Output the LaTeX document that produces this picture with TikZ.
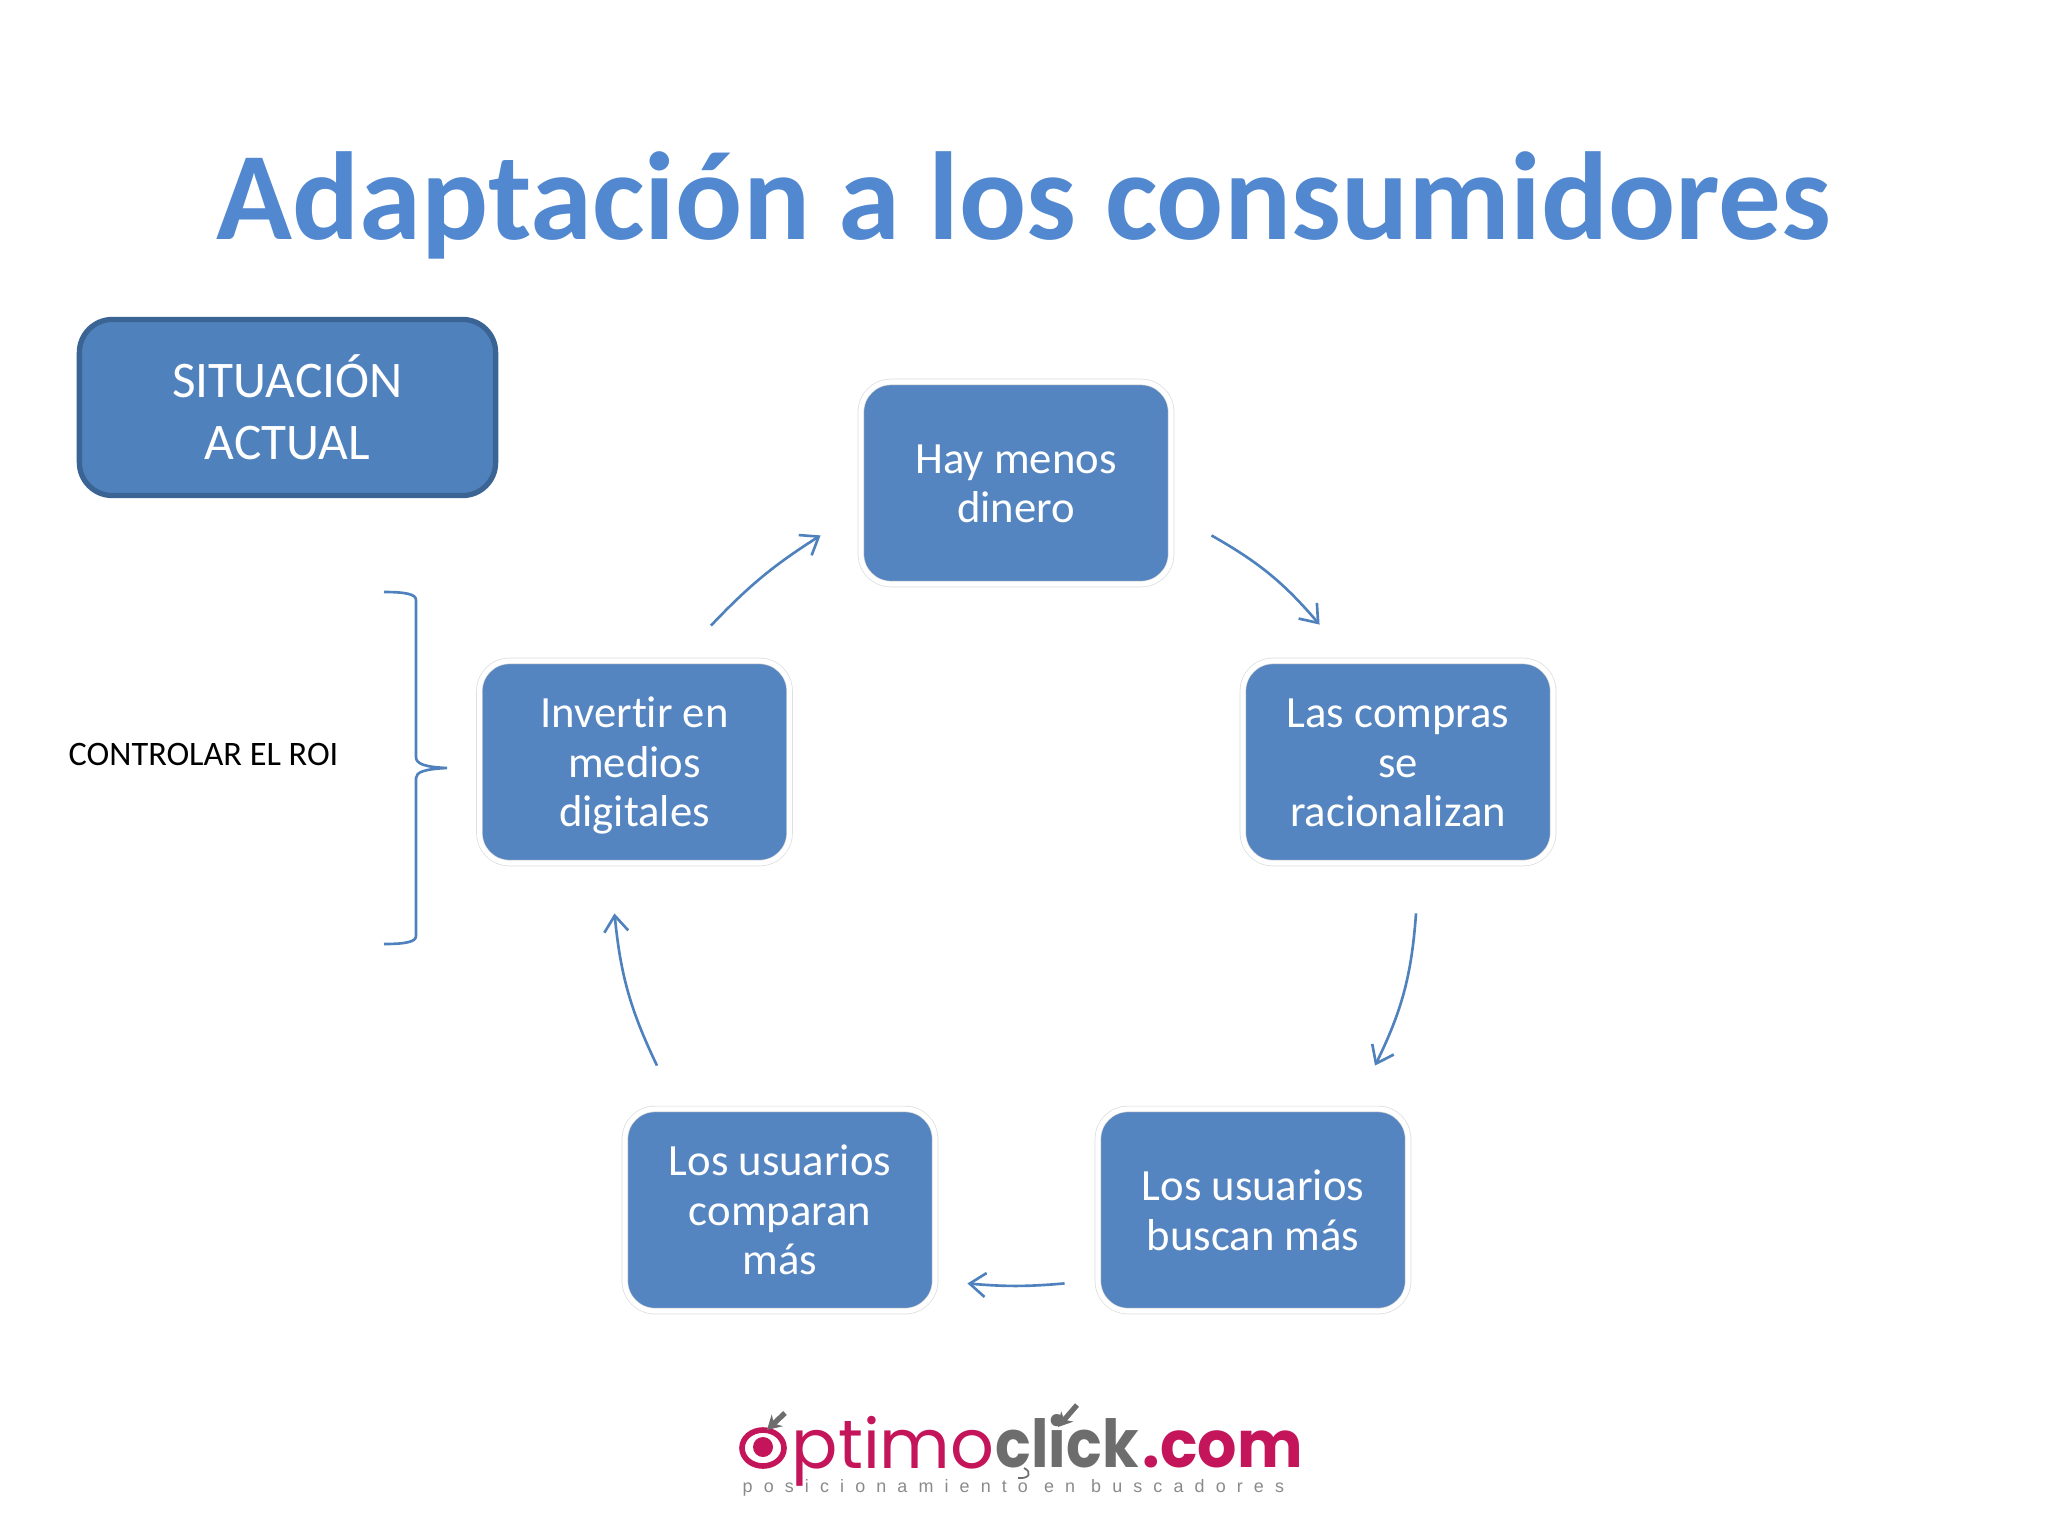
\documentclass[tikz,border=0pt]{standalone}
\usepackage{fontspec}
\setmainfont{Carlito}[Ligatures=NoCommon]
\newfontfamily\logofont{Poppins}
\newfontfamily\tagfont[LetterSpace=62]{Liberation Sans}
\usetikzlibrary{arrows.meta}
\definecolor{boxblue}{HTML}{5585C0}
\definecolor{darkblue}{HTML}{3A6494}
\definecolor{midblue}{HTML}{4F81BD}
\definecolor{titleblue}{HTML}{5288D0}
\definecolor{logopink}{HTML}{C4145A}
\definecolor{logogray}{HTML}{6D6D6D}
\newcommand{\lintop}{\rule{0pt}{12.8pt}}
\tikzset{
    cyclebox/.style={rectangle, rounded corners=0.3cm, fill=boxblue, draw=black!14, line width=0.2pt,
        double=white, double distance=0.05cm, minimum width=3.1cm, minimum height=2.02cm,
        text=white, align=center, font=\fontsize{12.7}{14.2}\selectfont},
    cyclearrow/.style={-{Straight Barb[length=0.16cm,width=0.24cm]}, midblue, line width=0.75pt},
    arrowlogo/.style={-{Stealth[length=0.14cm,width=0.16cm]}, logogray, line width=1.5pt}
}
\begin{document}
\begin{tikzpicture}[x=0.01cm,y=-0.01cm]
    \useasboundingbox (0,0) rectangle (2048,1536);
    \node[anchor=base, text=titleblue, font=\fontsize{35.6}{40}\selectfont\bfseries] (titulo) at (1024,239) {Adaptación a los consumidores};
    \node[rectangle, rounded corners=0.33cm, fill=midblue, draw=darkblue, line width=1.5pt, minimum width=4.16cm, minimum height=1.76cm,
        text=white, align=center, font=\fontsize{14.6}{17.6}\selectfont] (situacion) at (287.5,407.5) {SITUACIÓN\\ACTUAL};
    \node[cyclebox] (hay) at (1016,483) {\lintop Hay menos\\dinero\strut};
    \node[cyclebox] (compras) at (1398,762) {\lintop Las compras\\se\\racionalizan\strut};
    \node[cyclebox] (buscan) at (1253,1210) {\lintop Los usuarios\\buscan más\strut};
    \node[cyclebox] (comparan) at (780,1210) {\lintop Los usuarios\\comparan\\más\strut};
    \node[cyclebox] (invertir) at (634.5,762) {\lintop Invertir en\\medios\\digitales\strut};
    \draw[cyclearrow] ([shift={(40,-49)}]hay.south east) to[bend left=10] ([shift={(77,-36)}]compras.north west);
    \draw[cyclearrow] ([shift={(18,50)}]compras.south) to[bend left=11] ([shift={(122,-43)}]buscan.north);
    \draw[cyclearrow] ([shift={(-33,-28)}]buscan.south west) to[bend left=5] ([shift={(32,-28)}]comparan.south east);
    \draw[cyclearrow] ([shift={(-123,-43)}]comparan.north) to[bend left=10] ([shift={(-20,50)}]invertir.south);
    \draw[cyclearrow] ([shift={(-79,-35)}]invertir.north east) to[bend left=7] ([shift={(-40,-49)}]hay.south west);
    % llave
    \draw[midblue, line width=0.75pt] (384,592) .. controls (405,592) and (416,594) .. (416,600) -- (416,757)
        .. controls (416,764) and (425,767) .. (447,768) .. controls (425,769) and (416,772) .. (416,778) -- (416,936)
        .. controls (416,942) and (405,944) .. (384,944);
    \node[anchor=base west, inner sep=0pt, font=\fontsize{9.75}{11}\selectfont] (roi) at (68,765) {CONTROLAR EL ROI};
    % logo
    \draw[logopink, line width=1.6pt] (763,1448) ellipse [x radius=21, y radius=18];
    \fill[logopink] (763,1447) circle (10);
    \node[anchor=base west, inner sep=0pt, text=logopink, font=\logofont\fontsize{19.5}{23}\selectfont] (optimo) at (791,1468) {ptimo};
    \node[anchor=base west, inner sep=0pt, text=logogray, font=\logofont\fontsize{16.8}{20}\selectfont\bfseries] (click) at (995,1467) {\scalebox{1}[1.12]{click}};
    \node[anchor=base west, inner sep=0pt, text=logopink, font=\logofont\fontsize{17.6}{20}\selectfont\bfseries] (com) at (1142,1467) {\scalebox{1}[1.05]{.com}};
    \node[anchor=base west, inner sep=0pt, text=logogray!80, font=\tagfont\fontsize{5.1}{6}\selectfont] (tag) at (742,1492) {posicionamiento en buscadores};
    \draw[arrowlogo] (785,1413) -- (767,1430);
    \draw[arrowlogo] (1077,1405) -- (1058,1427);
    \draw[logogray, line width=0.5pt] (1024,1468) .. controls (1032,1472) and (1030,1479) .. (1018,1478);
\end{tikzpicture}
\end{document}
